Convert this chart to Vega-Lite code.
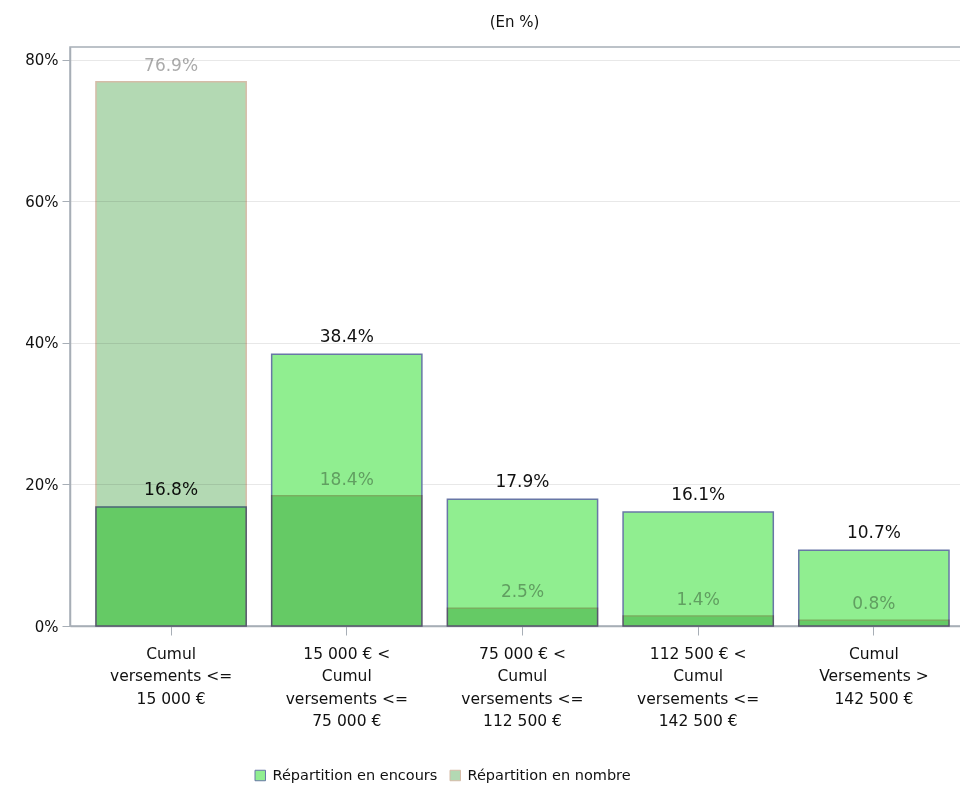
{
  "$schema": "https://vega.github.io/schema/vega-lite/v6.json",
  "width": 891,
  "height": 579,
  "autosize": "none",
  "padding": {"left": 70, "top": 47, "right": 0, "bottom": 167},
  "background": "white",
  "title": {"text": "(En %)", "font": "DejaVu Sans", "fontSize": 15, "fontWeight": "normal", "color": "#111", "offset": 2, "baseline": "bottom", "dx": -1},
  "config": {
    "view": {"stroke": "#a7aeb6", "strokeWidth": 1.5},
    "axis": {"labelFont": "DejaVu Sans", "labelColor": "#111", "domainColor": "#a7aeb6", "tickColor": "#a7aeb6", "domainWidth": 1.5}
  },
  "data": {"values": [
    {"cat": "Cumul\nversements <=\n15 000 €", "serie": "Répartition en encours", "value": 0.168},
    {"cat": "15 000 € <\nCumul\nversements <=\n75 000 €", "serie": "Répartition en encours", "value": 0.384},
    {"cat": "75 000 € <\nCumul\nversements <=\n112 500 €", "serie": "Répartition en encours", "value": 0.179},
    {"cat": "112 500 € <\nCumul\nversements <=\n142 500 €", "serie": "Répartition en encours", "value": 0.161},
    {"cat": "Cumul\nVersements >\n142 500 €", "serie": "Répartition en encours", "value": 0.107},
    {"cat": "Cumul\nversements <=\n15 000 €", "serie": "Répartition en nombre", "value": 0.769},
    {"cat": "15 000 € <\nCumul\nversements <=\n75 000 €", "serie": "Répartition en nombre", "value": 0.184},
    {"cat": "75 000 € <\nCumul\nversements <=\n112 500 €", "serie": "Répartition en nombre", "value": 0.025},
    {"cat": "112 500 € <\nCumul\nversements <=\n142 500 €", "serie": "Répartition en nombre", "value": 0.014},
    {"cat": "Cumul\nVersements >\n142 500 €", "serie": "Répartition en nombre", "value": 0.008}
  ]},
  "encoding": {
    "x": {"field": "cat", "type": "nominal", "sort": null,
      "scale": {"paddingInner": 0.145, "paddingOuter": 0.108, "align": 0.684},
      "axis": {"title": null, "labelAngle": 0, "labelExpr": "split(datum.label, '\\n')", "labelFontSize": 15.5, "labelLineHeight": 22.5, "labelPadding": 11, "tickSize": 9, "grid": false, "labelLimit": 300}},
    "y": {"field": "value", "type": "quantitative",
      "scale": {"domain": [0, 0.818], "nice": false},
      "axis": {"title": null, "format": ".0%", "values": [0, 0.2, 0.4, 0.6, 0.8], "tickSize": 8, "labelPadding": 4, "labelFontSize": 15, "gridColor": "#e8e8e8", "gridWidth": 1.2}}
  },
  "layer": [
    {
      "transform": [{"filter": "datum.serie === 'Répartition en encours'"}],
      "mark": {"type": "bar", "strokeWidth": 1.5},
      "encoding": {
        "fill": {"field": "serie", "type": "nominal",
          "scale": {"domain": ["Répartition en encours", "Répartition en nombre"], "range": ["#90ee90", "#b3d9b3"]},
          "legend": {"title": null, "orient": "none", "legendX": 183, "legendY": 721, "direction": "horizontal", "symbolType": "square", "symbolSize": 110, "symbolStrokeWidth": 1, "labelFont": "DejaVu Sans", "labelFontSize": 14.5, "labelColor": "#111", "labelLimit": 400, "columnPadding": 10, "labelOffset": 5, "padding": 0}},
        "stroke": {"field": "serie", "type": "nominal",
          "scale": {"domain": ["Répartition en encours", "Répartition en nombre"], "range": ["#6877a6", "#d6bca8"]},
          "legend": null}
      }
    },
    {
      "transform": [{"filter": "datum.serie === 'Répartition en encours'"}],
      "mark": {"type": "text", "baseline": "bottom", "dy": -8, "font": "DejaVu Sans", "fontSize": 17, "color": "#111"},
      "encoding": {"text": {"field": "value", "type": "quantitative", "format": ".1%"}}
    },
    {
      "transform": [{"filter": "datum.serie === 'Répartition en nombre'"}],
      "mark": {"type": "bar", "strokeWidth": 1.5, "blend": "multiply"},
      "encoding": {
        "fill": {"field": "serie", "type": "nominal"},
        "stroke": {"field": "serie", "type": "nominal"}
      }
    },
    {
      "transform": [{"filter": "datum.serie === 'Répartition en nombre'"}],
      "mark": {"type": "text", "baseline": "bottom", "dy": -7, "font": "DejaVu Sans", "fontSize": 17, "color": "#ababab", "blend": "multiply"},
      "encoding": {"text": {"field": "value", "type": "quantitative", "format": ".1%"}}
    }
  ]
}
